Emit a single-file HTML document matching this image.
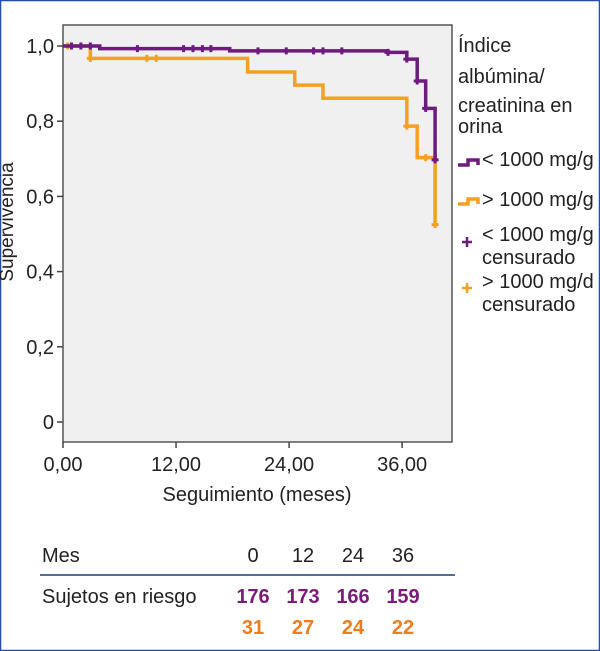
<!DOCTYPE html>
<html><head><meta charset="utf-8"><style>
html,body{margin:0;padding:0;background:#fff}
svg{display:block;font-family:"Liberation Sans","DejaVu Sans",sans-serif}
</style></head><body>
<svg id="chart" width="600" height="651" viewBox="0 0 600 651">
<rect x="0.5" y="0.5" width="599" height="650" fill="#fff" stroke="#1f4fa8" stroke-width="1.5"/>
<rect x="63" y="25" width="389" height="417" fill="#f0f0f1" stroke="#555" stroke-width="1.5"/>
<g id="axes"></g>
<g id="series"></g>
<text x="13" y="222" font-size="19" fill="#222" text-anchor="middle" transform="rotate(-90 13 222)">Supervivencia</text>
<text x="257" y="501" font-size="20" fill="#222" text-anchor="middle">Seguimiento (meses)</text>
<g font-size="20" fill="#222">
<text x="458" y="52">Índice</text>
<text x="458" y="83">albúmina/</text>
<text x="458" y="112">creatinina en</text>
<text x="458" y="133">orina</text>
<g><path d="M458 165 h10 v-5 h10 v5" fill="none" stroke="#6e1a7e" stroke-width="3.5"/><text x="482" y="166">&lt; 1000 mg/g</text></g>
<g><path d="M458 204 h10 v-5 h10 v5" fill="none" stroke="#f5a021" stroke-width="3.5"/><text x="482" y="206">&gt; 1000 mg/g</text></g>
<g><path d="M462 242h10M467 237v10" stroke="#6e1a7e" stroke-width="2.5"/><text x="482" y="241">&lt; 1000 mg/g</text><text x="482" y="264">censurado</text></g>
<g><path d="M462 288h10M467 283v10" stroke="#f5a021" stroke-width="2.5"/><text x="482" y="288">&gt; 1000 mg/d</text><text x="482" y="311">censurado</text></g>
</g>
<g font-size="20" fill="#222">
<text x="42" y="562">Mes</text>
<line x1="40" y1="575" x2="455" y2="575" stroke="#1f3f7f" stroke-width="1.5"/>
<text x="42" y="603">Sujetos en riesgo</text>
<g id="tbl"></g>
</g>
</svg>
<script>
const NS="http://www.w3.org/2000/svg";
const xTicks=[0,12,24,36];
const xTickLabels=["0,00","12,00","24,00","36,00"];
const yTicks=[0,0.2,0.4,0.6,0.8,1.0];
const yTickLabels=["0","0,2","0,4","0,6","0,8","1,0"];
const lowTimes=[0,3.9,17.7,34.5,36.5,37.6,38.5,39.5];
const lowSurv=[1.0,0.993,0.987,0.983,0.965,0.907,0.834,0.697];
const lowCensT=[0.9,1.9,2.9,7.9,12.8,13.8,14.8,15.7,20.7,23.7,26.6,27.6,29.6,34.5,36.5,37.6,38.5,39.5];
const highTimes=[0,2.9,19.6,24.6,27.6,36.5,37.6,39.5];
const highSurv=[1.0,0.967,0.931,0.896,0.861,0.787,0.703,0.525];
const highCensT=[0.5,2.9,8.9,9.9,36.5,38.5,39.5];
const tableMonths=["0","12","24","36"];
const tableLow=[176,173,166,159];
const tableHigh=[31,27,24,22];
const X=t=>63+t*9.42, Y=v=>422-v*376;
function mk(tag,attrs,parent){const e=document.createElementNS(NS,tag);for(const k in attrs)e.setAttribute(k,attrs[k]);parent.appendChild(e);return e;}
const ax=document.getElementById('axes');
xTicks.forEach((t,i)=>{
 const l=mk('line',{x1:X(t),x2:X(t),y1:442,y2:448,stroke:'#444','stroke-width':1.5},ax);
 
 
 const tx=mk('text',{x:X(t),y:471,'font-size':20,fill:'#222','text-anchor':'middle'},ax);tx.textContent=xTickLabels[i];
 
 
});
yTicks.forEach((v,i)=>{
 const l=mk('line',{x1:57,x2:63,y1:Y(v),y2:Y(v),stroke:'#444','stroke-width':1.5},ax);
 
 
 const tx=mk('text',{x:54,y:Y(v)+7,'font-size':20,fill:'#222','text-anchor':'end'},ax);tx.textContent=yTickLabels[i];
 
 
});
function survAt(times,surv,t){let s=surv[0];for(let i=0;i<times.length;i++)if(times[i]<=t)s=surv[i];return s;}
const sg=document.getElementById('series');
function draw(times,surv,cens,color,name){
 let d='M'+X(times[0])+' '+Y(surv[0]);
 for(let i=1;i<times.length;i++){d+=' H'+X(times[i])+' V'+Y(surv[i]);}
 const p=mk('path',{d:d,fill:'none',stroke:color,'stroke-width':3.5},sg);
 
 
 cens.forEach(t=>{
  const x=X(t),y=Y(survAt(times,surv,t));
  const c=mk('path',{d:`M${x-3.5} ${y}H${x+3.5}M${x} ${y-3.5}V${y+3.5}`,stroke:color,'stroke-width':3},sg);
  
  
 });
}
draw(highTimes,highSurv,highCensT,'#f5a021','high-albumin');
draw(lowTimes,lowSurv,lowCensT,'#6e1a7e','low-albumin');
const tb=document.getElementById('tbl');
const cols=[253,303,353,403];
tableMonths.forEach((m,i)=>{
 const a=mk('text',{x:cols[i],y:562,'text-anchor':'middle'},tb);a.textContent=m;
 
 
 const b=mk('text',{x:cols[i],y:603,'text-anchor':'middle',fill:'#7a1a7a','font-weight':'bold'},tb);b.textContent=tableLow[i];
 
 
 const c=mk('text',{x:cols[i],y:634,'text-anchor':'middle',fill:'#f07c1a','font-weight':'bold'},tb);c.textContent=tableHigh[i];
 
 
});
</script>
</body></html>
